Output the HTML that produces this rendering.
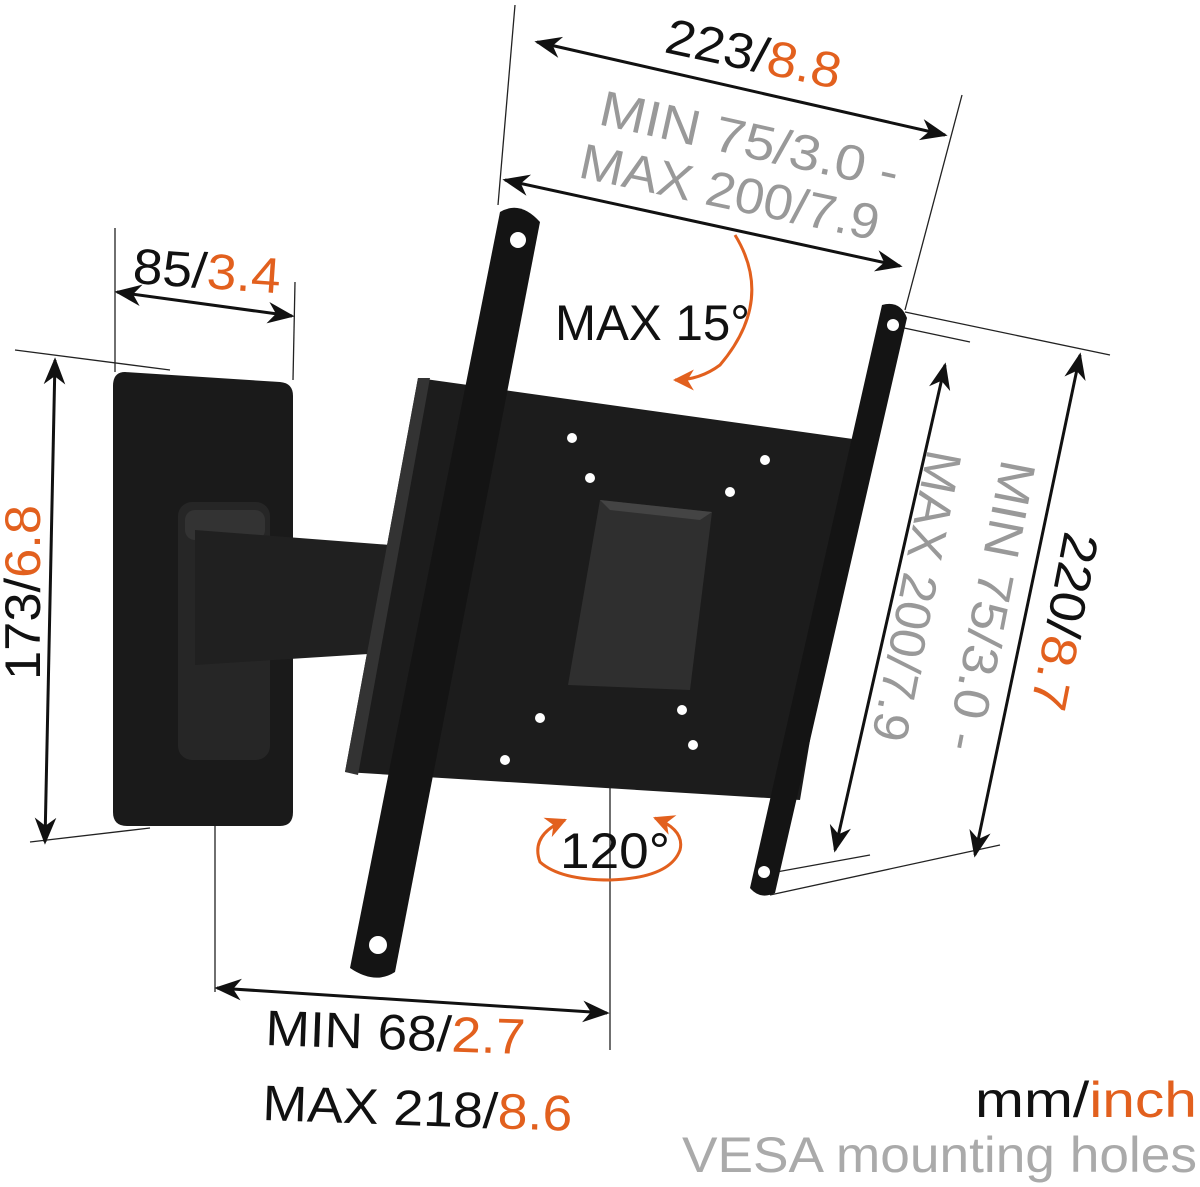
<!DOCTYPE html>
<html><head><meta charset="utf-8"><style>
html,body{margin:0;padding:0;background:#fff;}
svg{display:block;}
text{font-family:"Liberation Sans",sans-serif;}
</style></head><body>
<svg width="1200" height="1187" viewBox="0 0 1200 1187" xmlns="http://www.w3.org/2000/svg">
<defs>
<marker id="a" viewBox="0 0 10 10" refX="9" refY="5" markerWidth="9" markerHeight="9" orient="auto-start-reverse"><path d="M0,1 L10,5 L0,9 L3,5z" fill="#111"/></marker>
<marker id="o" viewBox="0 0 10 10" refX="9" refY="5" markerWidth="7" markerHeight="7" orient="auto-start-reverse"><path d="M0,0 L10,5 L0,10 L3,5z" fill="#e2601e"/></marker>
</defs>
<g stroke="#222" stroke-width="1.3" fill="none">
<line x1="515" y1="5" x2="498" y2="205"/>
<line x1="962" y1="95" x2="905" y2="310"/>
<line x1="115" y1="228" x2="115" y2="372"/>
<line x1="295" y1="282" x2="293" y2="380"/>
<line x1="15" y1="350" x2="170" y2="370"/>
<line x1="30" y1="842" x2="150" y2="828"/>
<line x1="905" y1="312" x2="1110" y2="355"/>
<line x1="890" y1="325" x2="970" y2="342"/>
<line x1="760" y1="875" x2="870" y2="855"/>
<line x1="770" y1="895" x2="1000" y2="845"/>
<line x1="215" y1="815" x2="215" y2="992"/>
<line x1="610" y1="780" x2="610" y2="1050"/>
</g>
<g stroke="#111" stroke-width="3" fill="none" marker-start="url(#a)" marker-end="url(#a)">
<line x1="537" y1="42" x2="945" y2="135"/>
<line x1="505" y1="180" x2="900" y2="266"/>
<line x1="117" y1="292" x2="292" y2="316"/>
<line x1="55" y1="360" x2="45" y2="842"/>
<line x1="1080" y1="355" x2="975" y2="855"/>
<line x1="945" y1="365" x2="835" y2="850"/>
<line x1="217" y1="988" x2="607" y2="1013"/>
</g>
<path d="M125,372 L280,382 Q293,383 293,396 L293,812 Q293,826 280,826 L127,826 Q113,826 113,812 L113,386 Q113,372 125,372z" fill="#1a1a1a"/>
<rect x="178" y="502" width="92" height="258" rx="14" fill="#262626"/>
<rect x="185" y="510" width="80" height="30" rx="10" fill="#333"/>
<path d="M195,530 L430,548 L430,650 L195,665z" fill="#202020"/>
<path d="M418,378 L860,440 L800,800 L345,772z" fill="#1c1c1c"/>
<path d="M418,378 L430,378 L358,775 L345,772z" fill="#333"/>
<path d="M600,500 L712,512 L690,690 L568,685z" fill="#2f2f2f"/>
<path d="M600,500 L712,512 L700,520 L610,510z" fill="#444"/>
<g fill="#fff">
<circle cx="572" cy="438" r="5"/><circle cx="765" cy="460" r="5"/>
<circle cx="590" cy="478" r="5"/><circle cx="730" cy="492" r="5"/>
<circle cx="540" cy="718" r="5"/><circle cx="682" cy="710" r="5"/>
<circle cx="505" cy="760" r="5"/><circle cx="693" cy="745" r="5"/>
</g>
<path d="M500,212 Q520,200 540,222 L395,972 Q375,985 350,968z" fill="#141414"/>
<circle cx="518" cy="240" r="8" fill="#fff"/>
<circle cx="378" cy="945" r="9" fill="#fff"/>
<path d="M882,305 Q900,300 907,318 L775,893 Q760,900 750,888z" fill="#141414"/>
<circle cx="893" cy="325" r="6" fill="#fff"/>
<circle cx="764" cy="872" r="6" fill="#fff"/>
<path d="M735,235 Q775,300 720,365 Q700,380 675,380" stroke="#e2601e" stroke-width="3" fill="none" marker-end="url(#o)"/>
<path d="M565,820 Q530,835 540,862 Q560,880 610,880 Q670,878 680,850 Q685,830 655,818" stroke="#e2601e" stroke-width="3" fill="none" marker-start="url(#o)" marker-end="url(#o)"/>
<g font-size="50" fill="#111">
<text x="663" y="52" transform="rotate(12 663 52)" textLength="178" lengthAdjust="spacingAndGlyphs">223/<tspan fill="#e2601e">8.8</tspan></text>
<text x="597" y="124" transform="rotate(12.5 597 124)" fill="#999" textLength="305" lengthAdjust="spacingAndGlyphs">MIN 75/3.0 -</text>
<text x="577" y="177" transform="rotate(12 577 177)" fill="#999" textLength="305" lengthAdjust="spacingAndGlyphs">MAX 200/7.9</text>
<text x="132" y="283" transform="rotate(4 132 283)" textLength="148" lengthAdjust="spacingAndGlyphs">85/<tspan fill="#e2601e">3.4</tspan></text>
<text x="40" y="680" transform="rotate(-90 40 680)" textLength="175" lengthAdjust="spacingAndGlyphs">173/<tspan fill="#e2601e">6.8</tspan></text>
<text x="1065" y="530" transform="rotate(101 1065 530)" textLength="180" lengthAdjust="spacingAndGlyphs">220/<tspan fill="#e2601e">8.7</tspan></text>
<text x="1002" y="458" transform="rotate(101 1002 458)" fill="#999" textLength="295" lengthAdjust="spacingAndGlyphs">MIN 75/3.0 -</text>
<text x="928" y="448" transform="rotate(101 928 448)" fill="#999" textLength="295" lengthAdjust="spacingAndGlyphs">MAX 200/7.9</text>
<text x="555" y="340" textLength="195" lengthAdjust="spacingAndGlyphs">MAX 15°</text>
<text x="560" y="868" textLength="110" lengthAdjust="spacingAndGlyphs">120°</text>
<text x="265" y="1045" transform="rotate(2 265 1045)" textLength="260" lengthAdjust="spacingAndGlyphs">MIN 68/<tspan fill="#e2601e">2.7</tspan></text>
<text x="262" y="1120" transform="rotate(2 262 1120)" textLength="310" lengthAdjust="spacingAndGlyphs">MAX 218/<tspan fill="#e2601e">8.6</tspan></text>
<text x="975" y="1117" textLength="222" lengthAdjust="spacingAndGlyphs">mm/<tspan fill="#e2601e">inch</tspan></text>
<text x="682" y="1172" fill="#aaa" textLength="515" lengthAdjust="spacingAndGlyphs">VESA mounting holes</text>
</g>
</svg>
</body></html>
